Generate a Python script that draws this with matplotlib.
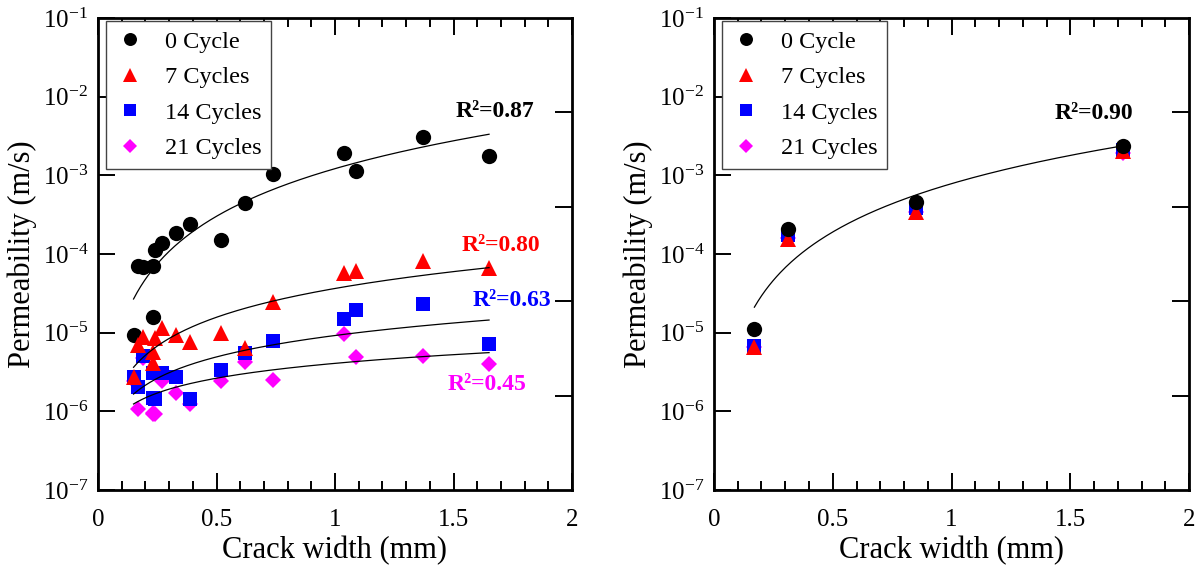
import numpy as np
import matplotlib
matplotlib.use("Agg")
import matplotlib.pyplot as plt
from matplotlib.ticker import MultipleLocator, FixedLocator, NullLocator, NullFormatter

plt.rcParams['font.family'] = ['Liberation Serif', 'DejaVu Serif']
plt.rcParams['mathtext.fontset'] = 'custom'
plt.rcParams['mathtext.rm'] = 'Liberation Serif'
plt.rcParams['mathtext.it'] = 'Liberation Serif:italic'
plt.rcParams['mathtext.bf'] = 'Liberation Serif:bold'

# ---------------- data (left panel) ----------------
crack_width = [0.15, 0.17, 0.19, 0.23, 0.23, 0.24, 0.27, 0.33, 0.39, 0.52, 0.62, 0.74, 1.04, 1.09, 1.37, 1.65]
k_0cycle = [9.3e-6, 7.1e-5, 6.9e-5, 7.1e-5, 1.6e-5, 1.12e-4, 1.39e-4, 1.83e-4, 2.39e-4, 1.51e-4,
            4.5e-4, 1.04e-3, 1.94e-3, 1.15e-3, 3.1e-3, 1.76e-3]
k_7cycles = [2.7e-6, 7.0e-6, 8.9e-6, 4.1e-6, 5.7e-6, 8.5e-6, 1.13e-5, 9.3e-6, 7.7e-6, 9.8e-6,
             6.3e-6, 2.43e-5, 5.8e-5, 6.0e-5, 8.1e-5, 6.6e-5]
k_14cycles = [2.7e-6, 2.06e-6, 5.05e-6, 1.47e-6, 3.05e-6, 1.45e-6, 3.05e-6, 2.7e-6, 1.45e-6, 3.36e-6,
              5.5e-6, 7.9e-6, 1.49e-5, 1.94e-5, 2.32e-5, 7.1e-6]
k_21cycles = [2.4e-6, 1.07e-6, 4.8e-6, 9.4e-7, 9.2e-7, 9.3e-7, 2.43e-6, 1.73e-6, 1.24e-6, 2.45e-6,
              4.2e-6, 2.5e-6, 9.6e-6, 4.9e-6, 5.05e-6, 4.0e-6]
# power-law fits k = a * w^b  (0, 7, 14, 21 cycles)
fit_a_left = [10**-2.915, 10**-4.438, 10**-5.036, 10**-5.390]
fit_b_left = [2.011, 1.216, 0.904, 0.627]
fit_range_left = [0.15, 1.65]
r2_left = ["0.87", "0.80", "0.63", "0.45"]

# ---------------- data (right panel) ----------------
crack_width_r = [0.17, 0.31, 0.85, 1.72]
k_0cycle_r = [1.1e-5, 2.06e-4, 4.6e-4, 2.36e-3]
k_7cycles_r = [6.5e-6, 1.55e-4, 3.4e-4, 2.05e-3]
k_14cycles_r = [6.8e-6, 1.75e-4, 3.9e-4, 2.1e-3]
k_21cycles_r = [6.5e-6, 1.6e-4, 3.4e-4, 1.95e-3]
fit_a_right = 10**-3.106
fit_b_right = 2.04
fit_range_right = [0.17, 1.72]
r2_right = "0.90"

labels = ["0 Cycle", "7 Cycles", "14 Cycles", "21 Cycles"]
colors = ["black", "#ff0000", "#0000ff", "#ff00ff"]
markers = ["o", "^", "s", "D"]
msizes = [11, 12, 10, 8.5]
yticks = [1e-7, 1e-6, 1e-5, 1e-4, 1e-3, 1e-2, 1e-1]
ytick_labels = [r"$\mathregular{10^{-%d}}$" % e for e in [7, 6, 5, 4, 3, 2, 1]]

fig = plt.figure(figsize=(11.98, 5.68), dpi=100)
ax1 = fig.add_axes([98/1198, 1-490/568, 474/1198, 472/568])
ax2 = fig.add_axes([714/1198, 1-490/568, 475/1198, 472/568])


def style_axes(ax):
    ax.set_yscale('log')
    ax.set_xlim(0, 2)
    ax.set_ylim(1e-7, 1e-1)
    ax.xaxis.set_minor_locator(MultipleLocator(0.1))
    ax.set_xticks([0, 0.5, 1, 1.5, 2])
    ax.set_xticklabels(["0", "0.5", "1", "1.5", "2"])
    ax.yaxis.set_major_locator(FixedLocator(yticks))
    ax.set_yticklabels(ytick_labels)
    ax.yaxis.set_minor_locator(NullLocator())
    ax.tick_params(axis='x', which='major', direction='in', length=12, width=1.4,
                   top=True, bottom=True, labelsize=18, pad=14)
    ax.tick_params(axis='x', which='minor', direction='in', length=6.5, width=1.4,
                   top=True, bottom=True)
    ax.tick_params(axis='y', which='major', direction='in', length=12, width=1.4,
                   left=True, right=False, labelsize=18, pad=7)
    for s in ax.spines.values():
        s.set_linewidth(2.0)
    ax.set_xlabel("Crack width (mm)", fontsize=22, labelpad=3)
    ax.set_ylabel("Permeability (m/s)", fontsize=22, labelpad=4)
    # right-hand spine with Origin-like equally spaced ticks
    tw = ax.twinx()
    tw.set_ylim(0, 5)
    tw.yaxis.set_major_locator(FixedLocator([1, 2, 3, 4]))
    tw.yaxis.set_major_formatter(NullFormatter())
    tw.tick_params(axis='y', direction='in', length=12, width=1.4, right=True, left=False)
    for s in tw.spines.values():
        s.set_visible(False)
    return tw


tw1 = style_axes(ax1)
tw2 = style_axes(ax2)
for a in (ax1, ax2):
    a.set_zorder(tw1.get_zorder() + 1)
    a.patch.set_visible(False)

# ---------------- left panel ----------------
series_left = [k_0cycle, k_7cycles, k_14cycles, k_21cycles]
hdict = {}
for idx in [0, 3, 2, 1]:
    h, = ax1.plot(crack_width, series_left[idx], linestyle='none', marker=markers[idx],
                  color=colors[idx], markersize=msizes[idx], markeredgewidth=0,
                  label=labels[idx], zorder=3)
    hdict[idx] = h

wfit = np.linspace(fit_range_left[0], fit_range_left[1], 200)
for a_, b_ in zip(fit_a_left, fit_b_left):
    ax1.plot(wfit, a_ * wfit**b_, color='black', linewidth=0.9, zorder=4)

ax1.text(1.675, 6.4e-3, "R²=" + r2_left[0], color=colors[0], fontsize=17, fontweight='bold',
         ha='center', va='center')
ax1.text(1.70, 1.28e-4, "R²=" + r2_left[1], color=colors[1], fontsize=17, fontweight='bold',
         ha='center', va='center')
ax1.text(1.747, 2.53e-5, "R²=" + r2_left[2], color=colors[2], fontsize=17, fontweight='bold',
         ha='center', va='center')
ax1.text(1.641, 2.21e-6, "R²=" + r2_left[3], color=colors[3], fontsize=17, fontweight='bold',
         ha='center', va='center')

# ---------------- right panel ----------------
series_right = [k_0cycle_r, k_7cycles_r, k_14cycles_r, k_21cycles_r]
hdict_r = {}
for idx in [3, 2, 1, 0]:
    h, = ax2.plot(crack_width_r, series_right[idx], linestyle='none', marker=markers[idx],
                  color=colors[idx], markersize=msizes[idx], markeredgewidth=0,
                  label=labels[idx], zorder=3)
    hdict_r[idx] = h

wfit_r = np.linspace(fit_range_right[0], fit_range_right[1], 200)
ax2.plot(wfit_r, fit_a_right * wfit_r**fit_b_right, color='black', linewidth=0.9, zorder=4)
ax2.text(1.60, 6.15e-3, "R²=" + r2_right, color='black', fontsize=17, fontweight='bold',
         ha='center', va='center')

for ax, hd in ((ax1, hdict), (ax2, hdict_r)):
    leg = ax.legend([hd[i] for i in range(4)], labels, loc='upper left',
                    bbox_to_anchor=(0.016, 0.994), borderaxespad=0, fontsize=17.5,
                    numpoints=1, markerscale=0.85, frameon=True, fancybox=False,
                    handlelength=1.2, handletextpad=0.85, labelspacing=0.56,
                    borderpad=0.4)
    fr = leg.get_frame()
    fr.set_edgecolor('#444444')
    fr.set_linewidth(1.0)
    fr.set_alpha(1)

fig.savefig("out.png", dpi=100)
